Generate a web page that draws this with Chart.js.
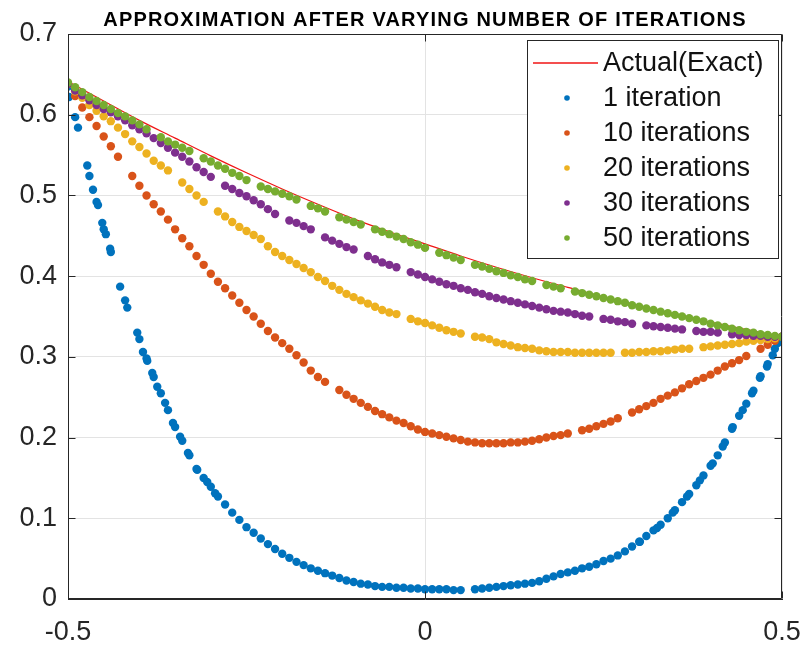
<!DOCTYPE html>
<html>
<head>
<meta charset="utf-8">
<script src="https://cdn.jsdelivr.net/npm/chart.js@4.4.0/dist/chart.umd.min.js"></script>
<style>
  html, body { margin: 0; padding: 0; background: #fff; }
  #wrap { width: 806px; height: 647px; position: relative; }
</style>
</head>
<body>
<div id="wrap"><canvas id="c" width="806" height="647"></canvas></div>
<script>
const chartTitle = 'APPROXIMATION AFTER VARYING NUMBER OF ITERATIONS';
const seriesLabels = ['Actual(Exact)', '1 iteration', '10 iterations', '20 iterations', '30 iterations', '50 iterations'];
const seriesColors = ['#f01414', '#0072BD', '#D95319', '#EDB120', '#7E2F8E', '#77AC30'];
const xTicks = [-0.5, 0, 0.5];
const yTicks = [0, 0.1, 0.2, 0.3, 0.4, 0.5, 0.6, 0.7];

// exact solution
const exactX = [-0.5,-0.45,-0.4,-0.35,-0.3,-0.25,-0.2,-0.15,-0.1,-0.05,0,0.05,0.1,0.15,0.2,0.25,0.3,0.35,0.4,0.45,0.5];
const exactY = [0.641,0.617,0.593,0.571,0.549,0.528,0.508,0.489,0.471,0.455,0.440,0.425,0.411,0.398,0.386,0.374,0.363,0.353,0.343,0.334,0.325];

// sample positions of the scattered approximations
const xSample = [
 -0.50,-0.49,-0.48,-0.47,-0.46,-0.45,-0.44,-0.43,-0.42,-0.41,
 -0.40,-0.39,-0.38,-0.37,-0.36,-0.35,-0.34,-0.33,-0.32,-0.31,
 -0.30,-0.29,-0.28,-0.27,-0.26,-0.25,-0.24,-0.23,-0.22,-0.21,
 -0.20,-0.19,-0.18,-0.17,-0.16,-0.15,-0.14,-0.13,-0.12,-0.11,
 -0.10,-0.09,-0.08,-0.07,-0.06,-0.05,-0.04,-0.03,-0.02,-0.01,
  0.00, 0.01, 0.02, 0.03, 0.04, 0.05, 0.06, 0.07, 0.08, 0.09,
  0.10, 0.11, 0.12, 0.13, 0.14, 0.15, 0.16, 0.17, 0.18, 0.19,
  0.20, 0.21, 0.22, 0.23, 0.24, 0.25, 0.26, 0.27, 0.28, 0.29,
  0.30, 0.31, 0.32, 0.33, 0.34, 0.35, 0.36, 0.37, 0.38, 0.39,
  0.40, 0.41, 0.42, 0.43, 0.44, 0.45, 0.46, 0.47, 0.48, 0.49,
  0.50];

const iter1 = [
 0.635,0.597,null,0.524,0.492,0.458,0.430,null,0.370,null,
 0.322,0.298,0.275,0.255,0.234,0.213,0.196,0.178,0.161,0.150,
 0.139,0.127,0.117,0.107,0.098,0.089,0.082,0.075,0.068,0.062,
 0.056,0.051,0.046,0.042,0.038,0.035,0.032,0.029,0.026,0.023,
 0.021,0.019,0.018,0.016,0.015,0.015,0.014,0.014,0.013,0.013,
 0.012,0.012,0.012,0.012,0.011,0.011,null,0.012,0.013,0.014,
 0.015,0.016,0.017,0.018,0.019,0.020,0.022,0.025,0.028,0.031,
 0.033,0.035,0.038,0.040,0.043,0.047,0.050,0.054,0.059,0.065,
 0.071,0.078,0.085,0.092,0.100,0.110,0.120,0.130,0.141,0.153,
 0.165,0.178,0.194,0.211,0.227,0.242,0.258,0.276,0.291,0.310,
 0.325];

// extra 1-iteration dots read on the steep flanks
const iter1ExtraX = [-0.4986,-0.486,-0.473,-0.465,-0.458,-0.452,-0.447,-0.441,-0.427,-0.417,-0.403,-0.395,-0.389,-0.382,-0.375,-0.364,-0.353,-0.343,-0.332,-0.319,-0.305,-0.294,
  0.301,0.325,0.347,0.367,0.385,0.403,0.417,0.431,0.445,0.458,0.469,0.479,0.487,0.494];
const iter1ExtraY = [0.622,0.584,0.537,0.507,0.488,0.466,0.452,0.434,0.387,0.361,0.330,0.306,0.295,0.280,0.263,0.243,0.218,0.201,0.181,0.160,0.145,0.131,
  0.071,0.088,0.107,0.127,0.147,0.168,0.189,0.213,0.234,0.255,0.274,0.288,0.302,0.317];

const iter10 = [
 0.638,0.623,0.609,0.597,0.586,0.573,0.561,0.548,null,0.524,
 0.512,0.500,0.489,0.480,0.470,0.458,0.447,0.437,0.425,0.414,
 0.403,0.393,0.385,0.376,0.367,0.358,0.350,0.341,0.332,0.324,
 0.317,0.310,0.302,0.293,0.283,0.275,0.269,null,0.259,0.253,
 0.248,0.243,0.238,0.233,0.229,0.225,0.221,0.218,0.214,0.210,
 0.207,0.205,0.203,0.201,0.199,0.197,0.195,0.194,0.193,0.193,
 0.193,0.193,0.194,0.194,0.195,0.196,0.198,0.200,0.202,0.203,
 0.205,null,0.209,0.211,0.214,0.217,0.220,0.224,null,0.231,
 0.235,0.239,0.243,0.248,0.252,0.256,0.261,0.266,0.270,0.274,
 0.278,0.283,0.288,0.292,0.296,0.301,null,0.310,0.315,0.320,
 0.325];

const iter20 = [
 0.638,0.629,0.621,0.612,0.605,0.598,0.592,0.584,0.576,0.567,
 0.560,0.552,0.543,0.537,0.531,null,0.516,0.508,0.500,0.492,
 null,0.480,0.474,0.467,0.461,0.456,0.451,0.446,0.437,0.430,
 0.425,0.420,0.415,0.410,0.405,0.399,0.394,0.388,0.383,0.378,
 0.374,0.370,0.366,0.362,0.358,0.355,0.353,null,0.347,0.344,
 0.342,0.339,0.336,0.333,0.331,0.329,null,0.325,0.324,0.322,
 0.318,0.316,0.314,0.312,0.311,0.310,0.308,0.307,0.306,0.306,
 0.306,0.305,0.305,0.305,0.305,0.305,0.305,null,0.305,0.305,
 0.306,0.306,0.307,0.307,0.308,0.309,0.310,0.310,null,0.312,
 0.313,0.314,0.315,0.316,0.317,0.319,0.320,0.321,0.322,0.323,
 0.325];

const iter30 = [
 0.638,0.630,0.624,0.618,0.612,0.607,0.603,0.598,0.593,0.587,
 0.582,0.577,0.571,0.565,0.559,0.553,0.548,0.542,0.535,0.529,
 0.523,null,0.512,0.508,0.503,0.499,0.494,0.489,0.483,0.477,
 null,0.469,0.466,0.462,0.458,null,0.448,0.444,0.440,0.436,
 0.433,null,0.425,0.421,0.417,0.414,0.411,null,0.405,0.402,
 0.399,0.396,0.393,0.390,0.388,0.385,0.383,0.380,0.378,0.375,
 0.373,0.371,0.369,0.367,0.365,0.363,0.361,0.359,0.357,0.356,
 0.355,0.353,0.351,0.350,null,0.347,0.346,0.344,0.343,0.341,
 null,0.339,0.338,0.337,0.336,0.335,0.334,null,0.332,0.331,
 0.331,0.330,null,0.328,0.327,0.327,0.326,0.326,0.325,0.325,
 0.325];

const iter50 = [
 0.640,0.634,0.628,0.622,0.617,0.612,0.607,0.602,0.598,0.593,
 0.588,0.582,null,0.572,0.567,0.563,0.559,0.555,null,0.546,
 0.542,0.537,0.533,0.528,0.524,0.519,null,0.511,0.508,0.505,
 0.502,0.499,0.495,null,0.487,0.484,0.480,null,0.473,0.470,
 0.467,0.464,null,0.458,0.455,0.452,0.449,0.446,0.442,0.439,
 0.435,null,0.429,0.426,0.423,0.420,null,0.414,0.412,0.409,
 0.406,0.404,0.401,0.399,0.396,0.394,null,0.389,0.387,0.385,
 null,0.381,0.379,0.377,0.375,0.373,0.371,0.369,0.367,0.364,
 0.362,0.360,0.358,0.356,0.354,0.352,0.350,0.348,0.346,0.344,
 0.341,0.339,0.337,0.335,0.333,0.331,0.330,0.328,0.327,0.326,
 0.325];

const approxSeries = [iter1, iter10, iter20, iter30, iter50];

function pairs(xs, ys) {
  const out = [];
  xs.forEach((x, i) => { if (ys[i] !== null && ys[i] !== undefined) out.push({ x: x, y: ys[i] }); });
  return out;
}

const FONT = '"Liberation Sans", Arial, Helvetica, sans-serif';
const INK = '#262626';

const datasets = [{
  label: seriesLabels[0],
  data: pairs(exactX, exactY),
  showLine: true,
  borderColor: seriesColors[0],
  borderWidth: 1.2,
  pointRadius: 0,
  tension: 0.4,
  cubicInterpolationMode: 'monotone',
  order: 6
}];
approxSeries.forEach((ys, k) => {
  let pts = pairs(xSample, ys);
  if (k === 0) pts = pts.concat(pairs(iter1ExtraX, iter1ExtraY));
  datasets.push({
    label: seriesLabels[k + 1],
    data: pts,
    showLine: false,
    backgroundColor: seriesColors[k + 1],
    borderColor: seriesColors[k + 1],
    pointRadius: 4.2,
    pointBorderWidth: 0,
    pointHoverRadius: 4.2,
    order: 5 - k
  });
});

const framePlugin = {
  id: 'frame',
  afterDatasetsDraw(chart) {
    const { ctx, chartArea: a, scales } = chart;
    ctx.save();
    ctx.strokeStyle = INK;
    ctx.lineWidth = 1;
    ctx.beginPath();
    const L = Math.round(a.left) + 0.5, R = Math.round(a.right) - 0.5;
    const T = Math.round(a.top) + 0.5, B = Math.round(a.bottom) - 0.5;
    ctx.moveTo(L, T); ctx.lineTo(R, T); ctx.lineTo(R, B); ctx.lineTo(L, B); ctx.closePath();
    const tl = 7;
    yTicks.forEach(v => {
      const p = Math.round(scales.y.getPixelForValue(v)) + 0.5;
      ctx.moveTo(L, p); ctx.lineTo(L + tl, p);
      ctx.moveTo(R, p); ctx.lineTo(R - tl, p);
    });
    xTicks.forEach(v => {
      const p = Math.round(scales.x.getPixelForValue(v)) + 0.5;
      ctx.moveTo(p, B); ctx.lineTo(p, B - tl);
      ctx.moveTo(p, T); ctx.lineTo(p, T + tl);
    });
    ctx.stroke();
    // title
    ctx.fillStyle = '#000';
    ctx.font = 'bold 20px ' + FONT;
    try { ctx.letterSpacing = '1.2px'; } catch (e) {}
    ctx.textAlign = 'center';
    ctx.textBaseline = 'alphabetic';
    ctx.fillText(chartTitle, (a.left + a.right) / 2, 26);
    ctx.restore();
  }
};

const legendPlugin = {
  id: 'boxLegend',
  afterDraw(chart) {
    const { ctx, chartArea: a } = chart;
    const W = 251, H = 218;
    const L = Math.round(a.right) - 255, T = Math.round(a.top) + 6;
    ctx.save();
    ctx.fillStyle = '#fff';
    ctx.fillRect(L, T, W, H);
    ctx.strokeStyle = INK;
    ctx.lineWidth = 1;
    ctx.strokeRect(L + 0.5, T + 0.5, W, H);
    ctx.font = '27px ' + FONT;
    ctx.textBaseline = 'middle';
    ctx.textAlign = 'left';
    chart.data.datasets.forEach((ds, i) => {
      const y = Math.round(T + 23 + i * 35);
      if (ds.showLine) {
        ctx.strokeStyle = ds.borderColor;
        ctx.lineWidth = 1.5;
        ctx.beginPath();
        ctx.moveTo(L + 6, y); ctx.lineTo(L + 71, y);
        ctx.stroke();
      } else {
        ctx.fillStyle = ds.backgroundColor;
        ctx.beginPath();
        ctx.arc(L + 40, y, 2.8, 0, Math.PI * 2);
        ctx.fill();
      }
      ctx.fillStyle = '#111';
      ctx.fillText(ds.label, L + 76, y + 1);
    });
    ctx.restore();
  }
};

new Chart(document.getElementById('c'), {
  type: 'scatter',
  data: { datasets: datasets },
  options: {
    responsive: false,
    animation: false,
    devicePixelRatio: 1,
    layout: { padding: { top: 34, right: 24, left: 0, bottom: 0 } },
    plugins: { legend: { display: false }, title: { display: false }, tooltip: { enabled: false } },
    scales: {
      x: {
        type: 'linear', min: -0.5, max: 0.5,
        afterBuildTicks: s => { s.ticks = xTicks.map(v => ({ value: v })); },
        afterFit: s => { s.height = 48; s.paddingLeft = 0; s.paddingRight = 0; },
        grid: { color: '#e3e3e3', drawTicks: false, lineWidth: 1 },
        border: { color: INK, width: 1 },
        ticks: { color: INK, font: { family: FONT, size: 27 }, padding: 17, maxRotation: 0 }
      },
      y: {
        type: 'linear', min: 0, max: 0.7,
        afterBuildTicks: s => { s.ticks = yTicks.map(v => ({ value: v })); },
        afterFit: s => { s.width = 68; s.paddingTop = 0; s.paddingBottom = 0; },
        grid: { color: '#e3e3e3', drawTicks: false, lineWidth: 1 },
        border: { color: INK, width: 1 },
        ticks: { color: INK, font: { family: FONT, size: 27 }, padding: 11 }
      }
    }
  },
  plugins: [framePlugin, legendPlugin]
});
</script>
</body>
</html>
